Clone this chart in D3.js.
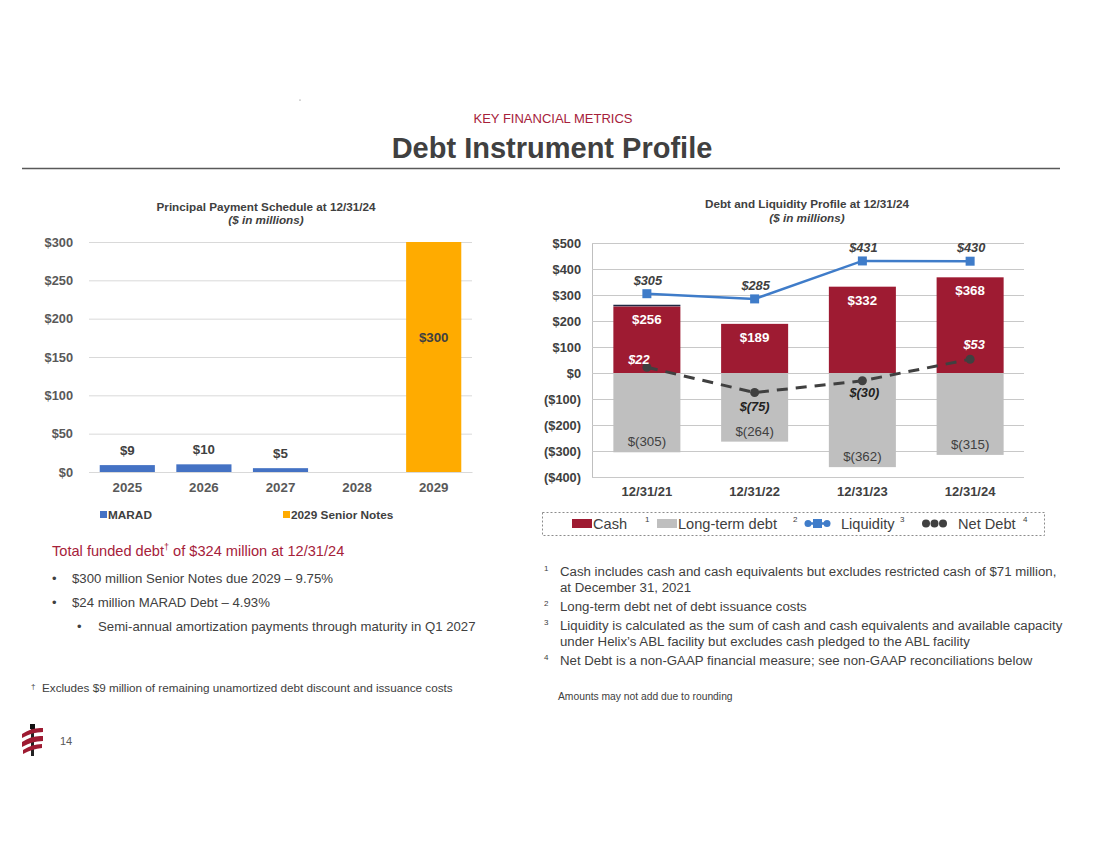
<!DOCTYPE html>
<html><head><meta charset="utf-8">
<script src="https://cdn.jsdelivr.net/npm/d3@7"></script>
<style>
body{margin:0;background:#fff;font-family:"Liberation Sans",Arial,sans-serif;}
svg{display:block}
</style></head>
<body>
<svg id="c" width="1100" height="849"></svg>
<script>
// ---- Data ----
const years = ["2025","2026","2027","2028","2029"];
const maradValues = [9, 10, 5, 0, 0];
const seniorNotesValues = [0, 0, 0, 0, 300];
const leftTicks = [0, 50, 100, 150, 200, 250, 300];

const periods = ["12/31/21","12/31/22","12/31/23","12/31/24"];
const cashValues = [256, 189, 332, 368];
const longTermDebtValues = [-305, -264, -362, -315];
const liquidityValues = [305, 285, 431, 430];
const netDebtValues = [22, -75, -30, 53];
const rightTicks = [-400, -300, -200, -100, 0, 100, 200, 300, 400, 500];

const svg = d3.select("#c");
const FONT = "'Liberation Sans', Arial, sans-serif";
const DARK = "#404040", MID = "#595959", MAROON = "#9E1B32";
svg.attr("font-family",FONT);

// ---- Header ----
svg.append("circle").attr("cx",300).attr("cy",100).attr("r",0.6).attr("fill","#666");
svg.append("text").attr("x",553).attr("y",123).attr("text-anchor","middle")
  .attr("font-size",13).attr("fill","#A6213A").text("KEY FINANCIAL METRICS");
svg.append("text").attr("x",552).attr("y",158).attr("text-anchor","middle")
  .attr("font-size",29).attr("font-weight","bold").attr("fill",DARK).text("Debt Instrument Profile");
svg.append("line").attr("x1",22).attr("x2",1060).attr("y1",168.5).attr("y2",168.5).attr("stroke","#595959").attr("stroke-width",1.5);

// ---- Left chart ----
const lx = d3.scaleBand().domain(years).range([89,472]).paddingInner(0.28).paddingOuter(0.14);
const ly = d3.scaleLinear().domain([0,300]).range([472,242]);
const L = svg.append("g");
L.append("text").attr("x",266).attr("y",211).attr("text-anchor","middle").attr("font-size",11.7).attr("font-weight","bold").attr("fill",DARK).text("Principal Payment Schedule at 12/31/24");
L.append("text").attr("x",266).attr("y",224).attr("text-anchor","middle").attr("font-size",11.7).attr("font-weight","bold").attr("font-style","italic").attr("fill",DARK).text("($ in millions)");

const lyAxis = L.append("g").attr("transform","translate(89,0)")
  .call(d3.axisLeft(ly).tickValues(leftTicks).tickSize(-383).tickPadding(16).tickFormat(d=>"$"+d));
lyAxis.select(".domain").remove();
lyAxis.selectAll(".tick line").attr("stroke","#D9D9D9").attr("stroke-width",1);
lyAxis.selectAll(".tick text").attr("font-size",12.8).attr("font-weight","bold").attr("fill",MID).attr("font-family",FONT);

const lxAxis = L.append("g").attr("transform","translate(0,472)")
  .call(d3.axisBottom(lx).tickSize(0).tickPadding(11));
lxAxis.select(".domain").attr("stroke","#D9D9D9");
lxAxis.selectAll(".tick text").attr("font-size",13.3).attr("font-weight","bold").attr("fill",MID).attr("font-family",FONT);

L.selectAll(".marad").data(years).enter().append("rect")
  .attr("x",d=>lx(d)).attr("width",lx.bandwidth())
  .attr("y",(d,i)=>ly(maradValues[i])).attr("height",(d,i)=>ly(0)-ly(maradValues[i]))
  .attr("fill","#4472C4");
L.selectAll(".senior").data(years).enter().append("rect")
  .attr("x",d=>lx(d)).attr("width",lx.bandwidth())
  .attr("y",(d,i)=>ly(maradValues[i]+seniorNotesValues[i])).attr("height",(d,i)=>ly(0)-ly(seniorNotesValues[i]))
  .attr("fill","#FFAB00");
L.selectAll(".mlab").data(years.filter((d,i)=>maradValues[i]>0)).enter().append("text")
  .attr("x",d=>lx(d)+lx.bandwidth()/2).attr("y",(d)=>ly(maradValues[years.indexOf(d)])-10)
  .attr("text-anchor","middle").attr("font-size",13.3).attr("font-weight","bold").attr("fill",DARK)
  .text(d=>"$"+maradValues[years.indexOf(d)]);
L.selectAll(".slab").data(years.filter((d,i)=>seniorNotesValues[i]>0)).enter().append("text")
  .attr("x",d=>lx(d)+lx.bandwidth()/2).attr("y",d=>ly(seniorNotesValues[years.indexOf(d)]*0.58)+3)
  .attr("text-anchor","middle").attr("font-size",13.3).attr("font-weight","bold").attr("fill",DARK)
  .text(d=>"$"+seniorNotesValues[years.indexOf(d)]);
// left legend
L.append("rect").attr("x",100).attr("y",511).attr("width",7).attr("height",7).attr("fill","#4472C4");
L.append("text").attr("x",108).attr("y",519).attr("font-size",11.8).attr("font-weight","bold").attr("fill",DARK).text("MARAD");
L.append("rect").attr("x",283).attr("y",511).attr("width",7).attr("height",7).attr("fill","#FFAB00");
L.append("text").attr("x",291).attr("y",519).attr("font-size",11.8).attr("font-weight","bold").attr("fill",DARK).text("2029 Senior Notes");

// ---- Right chart ----
const rx = d3.scaleBand().domain(periods).range([593,1024]).paddingInner(0.378).paddingOuter(0.189);
const ry = d3.scaleLinear().domain([-400,500]).range([477,243]);
const R = svg.append("g");
R.append("text").attr("x",807).attr("y",208).attr("text-anchor","middle").attr("font-size",11.7).attr("font-weight","bold").attr("fill",DARK).text("Debt and Liquidity Profile at 12/31/24");
R.append("text").attr("x",807).attr("y",222).attr("text-anchor","middle").attr("font-size",11.7).attr("font-weight","bold").attr("font-style","italic").attr("fill",DARK).text("($ in millions)");

const ryAxis = R.append("g").attr("transform","translate(592,0)")
  .call(d3.axisLeft(ry).tickValues(rightTicks).tickSize(-432).tickPadding(11)
    .tickFormat(d=> d<0 ? "($"+(-d)+")" : "$"+d));
ryAxis.select(".domain").attr("stroke","#BFBFBF");
ryAxis.selectAll(".tick line").attr("stroke","#C8C8C8").attr("stroke-width",1);
ryAxis.selectAll(".tick text").attr("font-size",12.8).attr("font-weight","bold").attr("fill",DARK).attr("font-family",FONT);

const rxAxis = R.append("g").attr("transform","translate(0,477)")
  .call(d3.axisBottom(rx).tickSize(0).tickPadding(10));
rxAxis.select(".domain").remove();
rxAxis.selectAll(".tick text").attr("font-size",13).attr("font-weight","bold").attr("fill",DARK).attr("font-family",FONT);

R.selectAll(".cash").data(periods).enter().append("rect")
  .attr("x",d=>rx(d)).attr("width",rx.bandwidth())
  .attr("y",(d,i)=>ry(cashValues[i])).attr("height",(d,i)=>ry(0)-ry(cashValues[i]))
  .attr("fill",MAROON);
R.selectAll(".ltd").data(periods).enter().append("rect")
  .attr("x",d=>rx(d)).attr("width",rx.bandwidth())
  .attr("y",ry(0)).attr("height",(d,i)=>ry(longTermDebtValues[i])-ry(0))
  .attr("fill","#BFBFBF");
// thin dark edge on first bar
R.append("line").attr("x1",rx(periods[0])).attr("x2",rx(periods[0])+rx.bandwidth())
  .attr("y1",ry(cashValues[0])-1).attr("y2",ry(cashValues[0])-1).attr("stroke","#1F2A44").attr("stroke-width",1.5);

R.selectAll(".cl").data(periods).enter().append("text")
  .attr("x",d=>rx(d)+rx.bandwidth()/2).attr("y",(d,i)=>ry(cashValues[i])+18)
  .attr("text-anchor","middle").attr("font-size",13.3).attr("font-weight","bold").attr("fill","#fff")
  .text((d,i)=>"$"+cashValues[i]);
R.selectAll(".ll").data(periods).enter().append("text")
  .attr("x",d=>rx(d)+rx.bandwidth()/2).attr("y",(d,i)=>ry(longTermDebtValues[i])-6)
  .attr("text-anchor","middle").attr("font-size",13.3).attr("fill",DARK)
  .text((d,i)=>"$("+(-longTermDebtValues[i])+")");

const cx = d=>rx(d)+rx.bandwidth()/2;
// net debt line
const ndLine = d3.line().x(d=>cx(d)).y((d,i)=>ry(netDebtValues[i]));
R.append("path").datum(periods).attr("d",ndLine).attr("fill","none").attr("stroke",DARK)
  .attr("stroke-width",3).attr("stroke-dasharray","11,8");
R.selectAll(".ndp").data(periods).enter().append("circle")
  .attr("cx",d=>cx(d)).attr("cy",(d,i)=>ry(netDebtValues[i])).attr("r",4.5).attr("fill",DARK);
// liquidity line
const lqLine = d3.line().x(d=>cx(d)).y((d,i)=>ry(liquidityValues[i]));
R.append("path").datum(periods).attr("d",lqLine).attr("fill","none").attr("stroke","#3F7CC9").attr("stroke-width",2.5);
R.selectAll(".lqp").data(periods).enter().append("rect")
  .attr("x",d=>cx(d)-4.5).attr("y",(d,i)=>ry(liquidityValues[i])-4.5).attr("width",9).attr("height",9).attr("fill","#3F7CC9");
R.selectAll(".lql").data(periods).enter().append("text")
  .attr("x",d=>cx(d)+1).attr("y",(d,i)=>ry(liquidityValues[i])-9)
  .attr("text-anchor","middle").attr("font-size",12.8).attr("font-weight","bold").attr("font-style","italic").attr("fill",DARK)
  .text((d,i)=>"$"+liquidityValues[i]);
// net debt labels
const ndOffsets = [[-8,-3],[0,18],[2,16],[4,-10]];
R.selectAll(".ndl").data(periods).enter().append("text")
  .attr("x",(d,i)=>cx(d)+ndOffsets[i][0]).attr("y",(d,i)=>ry(netDebtValues[i])+ndOffsets[i][1])
  .attr("text-anchor","middle").attr("font-size",12.8).attr("font-weight","bold").attr("font-style","italic")
  .attr("fill",(d,i)=>cashValues[i]>0 && netDebtValues[i]>0 ? "#fff" : "#222")
  .text((d,i)=>netDebtValues[i]<0 ? "$("+(-netDebtValues[i])+")" : "$"+netDebtValues[i]);

// right legend
const lg = R.append("g");
lg.append("rect").attr("x",542.5).attr("y",512.5).attr("width",502).attr("height",23).attr("fill","none")
  .attr("stroke","#8C8C8C").attr("stroke-width",1).attr("stroke-dasharray","2,2");
const lgText = (x,t)=>lg.append("text").attr("x",x).attr("y",528.5).attr("font-size",14.6).attr("fill",DARK).text(t);
const lgSup = (x,t)=>lg.append("text").attr("x",x).attr("y",522).attr("font-size",8).attr("fill",DARK).text(t);
lg.append("rect").attr("x",572).attr("y",519).attr("width",20).attr("height",9).attr("fill",MAROON);
lgText(593,"Cash"); lgSup(645,"1");
lg.append("rect").attr("x",657).attr("y",519).attr("width",20).attr("height",9).attr("fill","#BFBFBF");
lgText(678,"Long-term debt"); lgSup(793,"2");
lg.append("line").attr("x1",805).attr("x2",830).attr("y1",523.5).attr("y2",523.5).attr("stroke","#3F7CC9").attr("stroke-width",2.5);
lg.append("circle").attr("cx",808).attr("cy",523.5).attr("r",3.5).attr("fill","#3F7CC9");
lg.append("circle").attr("cx",827).attr("cy",523.5).attr("r",3.5).attr("fill","#3F7CC9");
lg.append("rect").attr("x",813).attr("y",519).attr("width",9).attr("height",9).attr("fill","#3F7CC9");
lgText(841,"Liquidity"); lgSup(900,"3");
[926,934.5,943].forEach(x=>lg.append("circle").attr("cx",x).attr("cy",523.5).attr("r",4).attr("fill",DARK));
lgText(958,"Net Debt"); lgSup(1023,"4");

// ---- Left text ----
const T = svg.append("g");
T.append("text").attr("x",52).attr("y",556).attr("font-size",14.6).attr("fill","#A6213A")
  .html('Total funded debt<tspan font-size="9" dy="-6">†</tspan><tspan dy="6"> of $324 million at 12/31/24</tspan>');
const bul = (bx,tx,y,t)=>{T.append("text").attr("x",bx).attr("y",y).attr("font-size",13).attr("fill",DARK).text("•");
  T.append("text").attr("x",tx).attr("y",y).attr("font-size",13.2).attr("fill",DARK).text(t);};
bul(52,72,583,"$300 million Senior Notes due 2029 – 9.75%");
bul(52,72,607,"$24 million MARAD Debt – 4.93%");
bul(77,98,631,"Semi-annual amortization payments through maturity in Q1 2027");
T.append("text").attr("x",31).attr("y",689).attr("font-size",8).attr("fill",DARK).text("†");
T.append("text").attr("x",42).attr("y",692).attr("font-size",11.7).attr("fill",DARK).text("Excludes $9 million of remaining unamortized debt discount and issuance costs");

// ---- Right footnotes ----
const fn = (y,t,sup)=>{ if(sup) T.append("text").attr("x",544).attr("y",y-5).attr("font-size",8).attr("fill",DARK).text(sup);
  T.append("text").attr("x",560).attr("y",y).attr("font-size",13.25).attr("fill",DARK).text(t);};
fn(576,"Cash includes cash and cash equivalents but excludes restricted cash of $71 million,","1");
fn(592,"at December 31, 2021");
fn(611,"Long-term debt net of debt issuance costs","2");
fn(630,"Liquidity is calculated as the sum of cash and cash equivalents and available capacity","3");
fn(646,"under Helix’s ABL facility but excludes cash pledged to the ABL facility");
fn(665,"Net Debt is a non-GAAP financial measure; see non-GAAP reconciliations below","4");
T.append("text").attr("x",558).attr("y",700).attr("font-size",10.3).attr("fill",DARK).text("Amounts may not add due to rounding");

// ---- Logo & page number ----
const lgo = svg.append("g");
lgo.append("rect").attr("x",31).attr("y",724).attr("width",3).attr("height",32).attr("fill","#222");
lgo.append("rect").attr("x",30).attr("y",724).attr("width",5).attr("height",5).attr("fill","#111");
lgo.append("path").attr("d","M22,734 Q32,727 43,728 L43,732 Q32,732 22,738 Z").attr("fill",MAROON);
lgo.append("path").attr("d","M22,742 Q32,735 43,736 L43,741 Q32,741 22,747 Z").attr("fill",MAROON);
lgo.append("path").attr("d","M23,750 Q32,744 42,744 L42,748 Q32,749 23,754 Z").attr("fill",MAROON);
svg.append("text").attr("x",60).attr("y",745).attr("font-size",11).attr("fill",MID).text("14");
</script>
</body></html>
